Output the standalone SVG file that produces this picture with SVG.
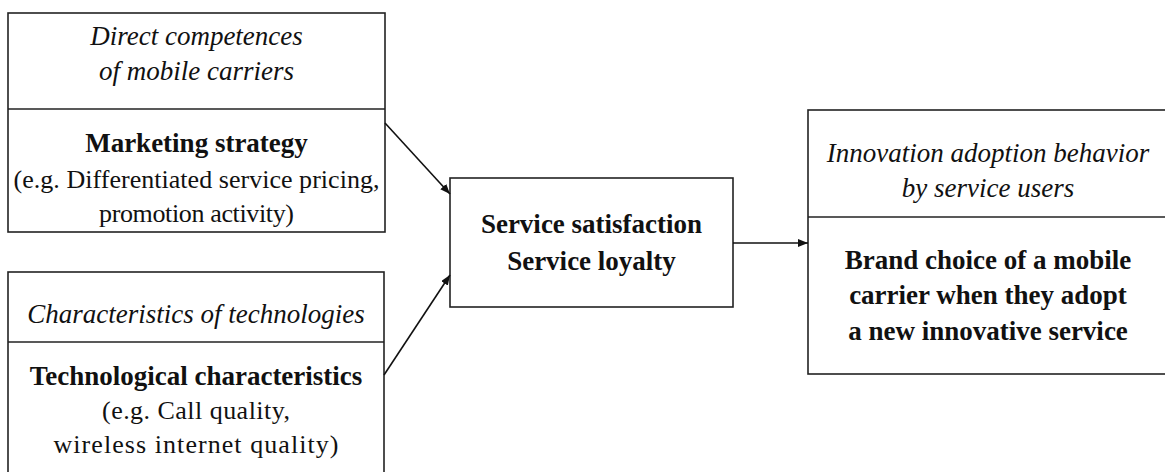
<svg xmlns="http://www.w3.org/2000/svg" width="1165" height="472" viewBox="0 0 1165 472">
<style>
.box{fill:#fff;stroke:#222;stroke-width:1.6}
.div{stroke:#222;stroke-width:1.6}
text{font-family:"Liberation Serif","Times New Roman",serif;font-size:27px;fill:#111;text-anchor:middle}
.it{font-style:italic}
.b{font-weight:bold}
.r{font-size:26px}
.con{stroke:#111;stroke-width:1.6;fill:none}
</style>
<defs>
<marker id="ah" viewBox="0 0 10 8" refX="10" refY="4" markerWidth="10" markerHeight="8" markerUnits="userSpaceOnUse" orient="auto">
<path d="M0,0 L10,4 L0,8 Z" fill="#111"/>
</marker>
</defs>
<rect width="1165" height="472" fill="#fff"/>
<g id="node-marketing">
<rect class="box" x="8" y="13" width="377" height="219"/>
<line class="div" x1="8" y1="109" x2="385" y2="109"/>
<text class="it" x="196.5" y="45">Direct competences</text>
<text class="it" x="196.5" y="80">of mobile carriers</text>
<text class="b" x="196.5" y="152">Marketing strategy</text>
<text class="r" x="196.5" y="188" textLength="366" lengthAdjust="spacing">(e.g. Differentiated service pricing,</text>
<text class="r" x="196.5" y="222" textLength="195" lengthAdjust="spacing">promotion activity)</text>
</g>
<g id="node-tech">
<rect class="box" x="8" y="272" width="376" height="210"/>
<line class="div" x1="8" y1="342" x2="384" y2="342"/>
<text class="it" x="196" y="323">Characteristics of technologies</text>
<text class="b" x="196" y="385">Technological characteristics</text>
<text class="r" x="196" y="419" textLength="188" lengthAdjust="spacing">(e.g. Call quality,</text>
<text class="r" x="196" y="453" textLength="285" lengthAdjust="spacing">wireless internet quality)</text>
</g>
<g id="node-satisfaction">
<rect class="box" x="450" y="178" width="283" height="129"/>
<text class="b" x="591.5" y="233">Service satisfaction</text>
<text class="b" x="591.5" y="270">Service loyalty</text>
</g>
<g id="node-adoption">
<rect class="box" x="808" y="110" width="362" height="264"/>
<line class="div" x1="808" y1="217" x2="1170" y2="217"/>
<text class="it" x="988" y="162">Innovation adoption behavior</text>
<text class="it" x="988" y="197">by service users</text>
<text class="b" x="988" y="269">Brand choice of a mobile</text>
<text class="b" x="988" y="304">carrier when they adopt</text>
<text class="b" x="988" y="340">a new innovative service</text>
</g>
<g id="connectors">
<line class="con" x1="385" y1="123" x2="450" y2="194" marker-end="url(#ah)"/>
<line class="con" x1="384" y1="375" x2="450" y2="275" marker-end="url(#ah)"/>
<line class="con" x1="733" y1="243" x2="808" y2="243" marker-end="url(#ah)"/>
</g>
</svg>
